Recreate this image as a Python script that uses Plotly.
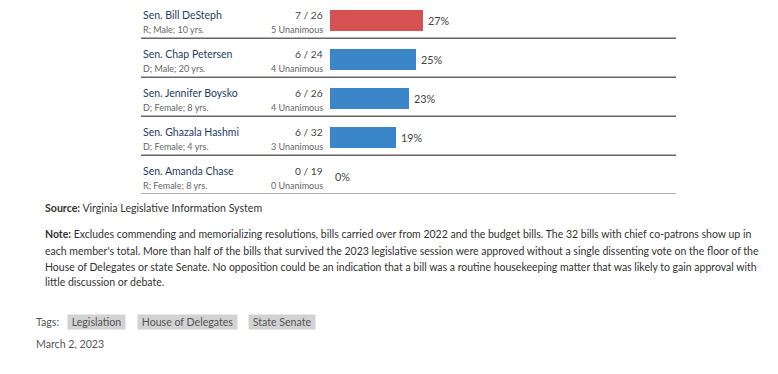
import plotly.graph_objects as go

names = ["Sen. Bill DeSteph", "Sen. Chap Petersen", "Sen. Jennifer Boysko",
         "Sen. Ghazala Hashmi", "Sen. Amanda Chase"]
details = ["R; Male; 10 yrs.", "D; Male; 20 yrs.", "D; Female; 8 yrs.",
           "D; Female; 4 yrs.", "R; Female; 8 yrs."]
passed = [7, 6, 6, 6, 0]
sponsored = [26, 24, 26, 32, 19]
unanimous = [5, 4, 4, 3, 0]
pct = [27, 25, 23, 19, 0]
party = ["R", "D", "D", "D", "R"]

source_label = "Source:"
source_text = "Virginia Legislative Information System"
note_lines = [
    "<b>Note:</b> Excludes commending and memorializing resolutions, bills carried over from 2022 and the budget bills. The 32 bills with chief co-patrons show up in",
    "each member's total. More than half of the bills that survived the 2023 legislative session were approved without a single dissenting vote on the floor of the",
    "House of Delegates or state Senate. No opposition could be an indication that a bill was a routine housekeeping matter that was likely to gain approval with",
    "little discussion or debate.",
]
tags = ["Legislation", "House of Delegates", "State Senate"]
date_text = "March 2, 2023"

W, H = 778, 374
OFF = 8  # page body margin offset
PAD = 2  # annotation inner padding
FONT = "Lato"
party_colors = {"R": "#d55252", "D": "#3a86c8"}

rows = list(range(len(names)))

fig = go.Figure()
fig.add_trace(go.Bar(
    x=pct, y=rows, orientation="h",
    marker=dict(color=[party_colors[p] for p in party], line=dict(width=0)),
    width=0.54, hoverinfo="skip",
))

def fx(p):
    return (p - OFF) / W

def fy(p):
    return 1 - (p - OFF) / H

row_px = 39.0
top_center = 20.5
y_top = (OFF - top_center) / row_px
y_bot = (194 - top_center) / row_px

annotations = []
shapes = []
for i in rows:
    annotations.append(dict(x=fx(143 - PAD), y=i - 5.5 / row_px, xref="paper", yref="y",
                            text=names[i], showarrow=False, xanchor="left", yanchor="middle",
                            font=dict(family=FONT, size=10.5, color="#253e63")))
    annotations.append(dict(x=fx(143 - PAD), y=i + 8.5 / row_px, xref="paper", yref="y",
                            text=details[i], showarrow=False, xanchor="left", yanchor="middle",
                            font=dict(family=FONT, size=9, color="#666666")))
    annotations.append(dict(x=fx(323 + PAD), y=i - 5.5 / row_px, xref="paper", yref="y",
                            text=f"{passed[i]} / {sponsored[i]}", showarrow=False,
                            xanchor="right", yanchor="middle",
                            font=dict(family=FONT, size=10.2, color="#444444")))
    annotations.append(dict(x=fx(323 + PAD), y=i + 8.5 / row_px, xref="paper", yref="y",
                            text=f"{unanimous[i]} Unanimous", showarrow=False,
                            xanchor="right", yanchor="middle",
                            font=dict(family=FONT, size=9, color="#666666")))
    annotations.append(dict(x=pct[i], y=i, xref="x", yref="y", xshift=3,
                            text=f"{pct[i]}%", showarrow=False,
                            xanchor="left", yanchor="middle",
                            font=dict(family=FONT, size=10.8, color="#444444")))
    ly = i + (38.3 - top_center) / row_px
    shapes.append(dict(type="line", xref="paper", yref="y",
                       x0=fx(141), x1=fx(676), y0=ly, y1=ly,
                       line=dict(color="#666666", width=1.5)))

annotations.append(dict(x=fx(45 - PAD), y=fy(207.7), xref="paper", yref="paper",
                        text=f"<b>{source_label}</b> {source_text}", showarrow=False,
                        xanchor="left", yanchor="middle",
                        font=dict(family=FONT, size=10.6, color="#333333")))
note_y = [234.3, 251, 266.7, 282.3]
for line, yy in zip(note_lines, note_y):
    annotations.append(dict(x=fx(45 - PAD), y=fy(yy), xref="paper", yref="paper",
                            text=line, showarrow=False, xanchor="left", yanchor="middle",
                            font=dict(family=FONT, size=10.5, color="#333333")))

annotations.append(dict(x=fx(36 - PAD), y=fy(322), xref="paper", yref="paper",
                        text="Tags:", showarrow=False, xanchor="left", yanchor="middle",
                        font=dict(family=FONT, size=10.6, color="#555555")))
tag_x = [67, 137, 248]
for t, tx in zip(tags, tag_x):
    annotations.append(dict(x=fx(tx), y=fy(322), xref="paper", yref="paper",
                            text=f"&nbsp;{t}&nbsp;", showarrow=False,
                            xanchor="left", yanchor="middle",
                            bgcolor="#d2d2d2", borderpad=1,
                            font=dict(family=FONT, size=10.6, color="#555555")))
annotations.append(dict(x=fx(36 - PAD), y=fy(344), xref="paper", yref="paper",
                        text=date_text, showarrow=False, xanchor="left", yanchor="middle",
                        font=dict(family=FONT, size=10.6, color="#555555")))

fig.update_layout(
    width=W, height=H,
    margin=dict(l=0, r=0, t=0, b=0),
    paper_bgcolor="white", plot_bgcolor="white",
    showlegend=False,
    xaxis=dict(range=[0, 100], domain=[fx(330), fx(330 + 345)],
               visible=False, fixedrange=True),
    yaxis=dict(range=[y_bot, y_top], domain=[fy(194), 1],
               visible=False, fixedrange=True),
    annotations=annotations,
    shapes=shapes,
    bargap=0,
)

fig.write_html("out.html")
